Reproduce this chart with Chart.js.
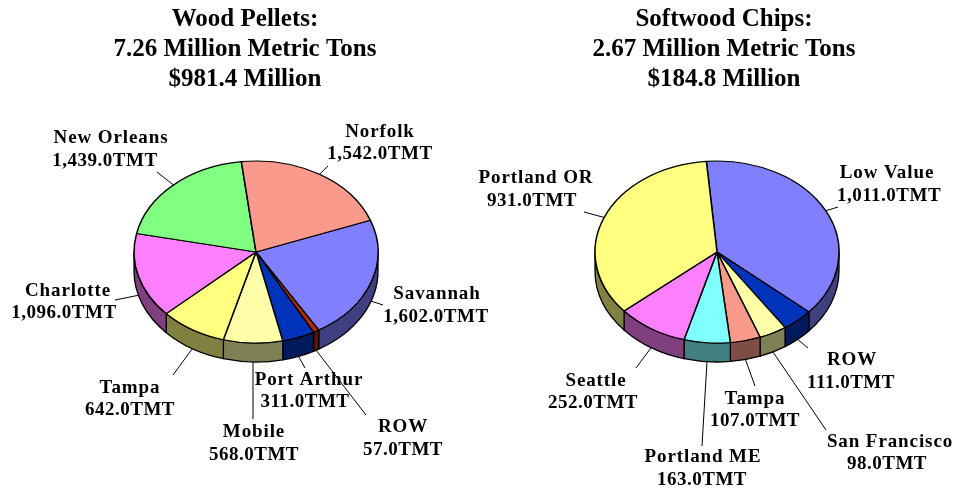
<!DOCTYPE html>
<html><head><meta charset="utf-8">
<style>
html,body{margin:0;padding:0;background:#fff;width:956px;height:489px;overflow:hidden}
canvas{position:absolute;top:0}
</style>
<script src="https://cdn.jsdelivr.net/npm/chart.js@4"></script>
</head><body>
<canvas id="a" width="490" height="489" style="left:0"></canvas>
<canvas id="b" width="504" height="489" style="left:472px"></canvas>
<script>
const pelletPorts=["Savannah","ROW","Port Arthur","Mobile","Tampa","Charlotte","New Orleans","Norfolk"];
const pelletValues=[1602,57,311,568,642,1096,1439,1542];
const pelletColors=["#8080FF","#B22A00","#0033BB","#FFFFAA","#FFFF80","#FF80FF","#80FF80","#FA9A8C"];
const pelletTitle=["Wood Pellets:","7.26 Million Metric Tons","$981.4 Million"];

const chipPorts=["Low Value","ROW","San Francisco","Tampa","Portland ME","Seattle","Portland OR"];
const chipValues=[1011,111,98,107,163,252,931];
const chipColors=["#8080FF","#0033BB","#FFFFAA","#FA9A8C","#80FFFF","#FF80FF","#FFFF80"];
const chipTitle=["Softwood Chips:","2.67 Million Metric Tons","$184.8 Million"];

// page positions: [name x, name y, value x, value y, leader end x, leader end y]
const pelletLabelPos=[[437,293,436,316,383,305],[403,426,403,449,366,415],[309,379,305,401,305,368],[254,431,254,454,253,419],[130,387,130,409,173,375],[68,290,64,312,115,300],[111,137,105,160,157,172],[380,131,380,153,328,166]];
const chipLabelPos=[[887,172,889,195,838,207],[852,359,851,382,808,348],[890,441,887,463,826,430],[755,398,755,420,755,386],[703,456,702,479,702,446],[596,380,593,402,636,368],[536,177,532,200,584,212]];

const fmt=v=>v.toLocaleString('en-US',{minimumFractionDigits:1,maximumFractionDigits:1})+"TMT";
const dark=c=>{const n=parseInt(c.slice(1),16);const h=x=>Math.round(x/2).toString(16).padStart(2,'0');return '#'+h(n>>16&255)+h(n>>8&255)+h(n&255);};

const pie3d={
  id:'pie3d',
  beforeDatasetsDraw(chart,args,o){
    const ctx=chart.ctx,arcs=chart.getDatasetMeta(0).data,colors=chart.data.datasets[0].backgroundColor;
    const cx=o.cx-o.originX,cy=o.cy,rx=arcs[0].outerRadius,ry=rx*o.ratio;
    ctx.save();
    ctx.lineWidth=1.3;ctx.strokeStyle='#000';ctx.lineJoin='round';
    arcs.forEach((a,i)=>{
      for(let k=-2;k<=2;k++){
        const s=Math.max(a.startAngle+k*2*Math.PI,0),e=Math.min(a.endAngle+k*2*Math.PI,Math.PI);
        if(e<=s)continue;
        ctx.beginPath();
        ctx.ellipse(cx,cy,rx,ry,0,s,e);
        ctx.ellipse(cx,cy+o.depth,rx,ry,0,e,s,true);
        ctx.closePath();
        ctx.fillStyle=dark(colors[i]);
        ctx.fill();ctx.stroke();
      }
    });
    ctx.restore();
    ctx.save();
    ctx.translate(cx,cy);ctx.scale(1,o.ratio);ctx.translate(-arcs[0].x,-arcs[0].y);
  },
  afterDatasetsDraw(chart,args,o){
    const ctx=chart.ctx;
    ctx.restore();
    const arcs=chart.getDatasetMeta(0).data,vals=chart.data.datasets[0].data,names=chart.data.labels;
    const cx=o.cx-o.originX,cy=o.cy,rx=arcs[0].outerRadius,ry=rx*o.ratio;
    ctx.save();
    ctx.strokeStyle='#000';ctx.lineWidth=1;
    arcs.forEach((a,i)=>{
      const m=(a.startAngle+a.endAngle)/2,p=o.pos[i];
      const x=cx+rx*Math.cos(m);let y=cy+ry*Math.sin(m);
      if(Math.sin(m)>0)y+=o.depth;
      ctx.beginPath();ctx.moveTo(x,y);ctx.lineTo(p[4]-o.originX,p[5]);ctx.stroke();
    });
    ctx.font='bold 19px "Liberation Serif"';
    ctx.fillStyle='#000';ctx.textAlign='center';ctx.textBaseline='middle';
    arcs.forEach((a,i)=>{
      const p=o.pos[i];
      ctx.letterSpacing='0.9px';
      ctx.fillText(names[i],p[0]-o.originX,p[1]+1);
      ctx.letterSpacing='0.5px';
      ctx.fillText(fmt(vals[i]),p[2]-o.originX,p[3]+1);
    });
    ctx.restore();
  }
};

function make(id,labels,values,colors,title,pos,rot,cx,originX){
  new Chart(document.getElementById(id),{
    type:'pie',
    data:{labels,datasets:[{data:values,backgroundColor:colors,borderColor:'#000',borderWidth:1.5,clip:false,hoverOffset:0}]},
    options:{
      responsive:false,animation:false,devicePixelRatio:1,
      rotation:rot,radius:122,
      events:[],
      plugins:{
        legend:{display:false},tooltip:{enabled:false},
        title:{display:true,text:title,color:'#000',font:{family:'"Liberation Serif"',size:25,weight:'bold',lineHeight:1.19},padding:{top:5,bottom:4}},
        pie3d:{cx,cy:252,ratio:0.746,depth:19,originX,pos}
      }
    },
    plugins:[pie3d]
  });
}
make('a',pelletPorts,pelletValues,pelletColors,pelletTitle,pelletLabelPos,69.6,256,0);
make('b',chipPorts,chipValues,chipColors,chipTitle,chipLabelPos,-5,717,472);
</script>
</body></html>
